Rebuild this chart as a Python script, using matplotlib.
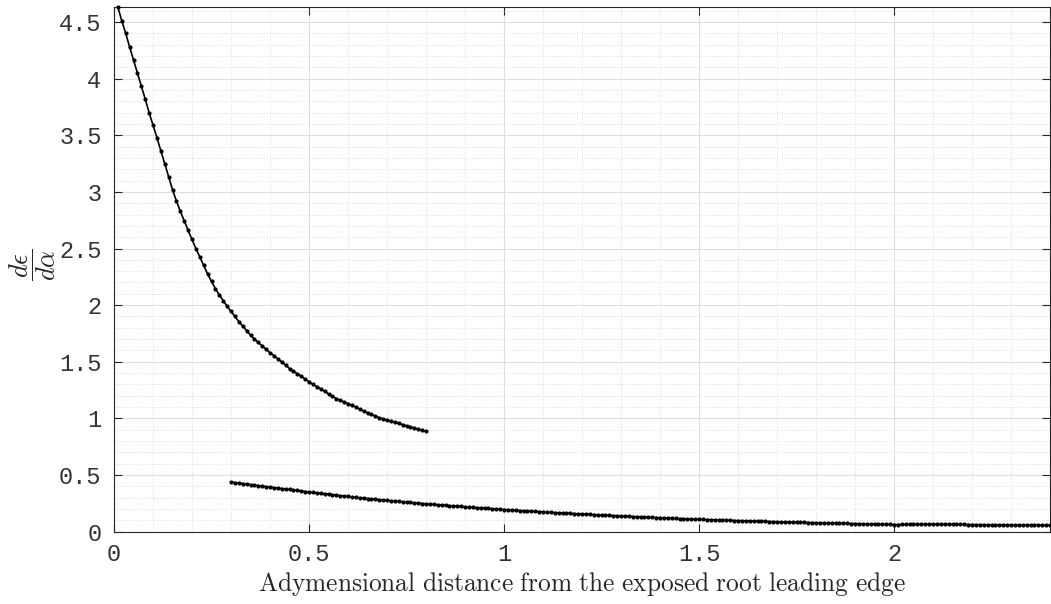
import numpy as np
import matplotlib
matplotlib.use("Agg")
import matplotlib.pyplot as plt
from matplotlib.ticker import MultipleLocator

# upper curve, sampled every 0.01 from x = 0.01 to 0.80
upper_y = [
    4.630, 4.510, 4.400, 4.280, 4.165, 4.050, 3.935, 3.820, 3.700, 3.590,
    3.480, 3.365, 3.250, 3.135, 3.020, 2.920, 2.830, 2.745, 2.660, 2.580,
    2.500, 2.425, 2.350, 2.275, 2.210, 2.145, 2.090, 2.040, 1.990, 1.945,
    1.900, 1.855, 1.815, 1.775, 1.735, 1.700, 1.670, 1.640, 1.610, 1.580,
    1.555, 1.525, 1.500, 1.470, 1.440, 1.415, 1.395, 1.375, 1.345, 1.325,
    1.300, 1.280, 1.260, 1.240, 1.215, 1.195, 1.175, 1.160, 1.145, 1.130,
    1.115, 1.100, 1.080, 1.065, 1.050, 1.035, 1.020, 1.005, 0.995, 0.985,
    0.975, 0.965, 0.955, 0.945, 0.935, 0.925, 0.915, 0.905, 0.895, 0.885,
]
upper_x = np.round(0.01 + 0.01 * np.arange(len(upper_y)), 2)

# lower curve, sampled every 0.01 from x = 0.30 to 2.40
lower_y = [
    0.437, 0.433, 0.428, 0.424, 0.419, 0.415, 0.411, 0.406, 0.402, 0.397,
    0.393, 0.389, 0.385, 0.380, 0.376, 0.372, 0.367, 0.363, 0.359, 0.354,
    0.350, 0.346, 0.342, 0.338, 0.334, 0.330, 0.326, 0.322, 0.318, 0.314,
    0.310, 0.306, 0.303, 0.299, 0.296, 0.292, 0.289, 0.285, 0.282, 0.278,
    0.275, 0.272, 0.269, 0.266, 0.263, 0.260, 0.257, 0.254, 0.251, 0.248,
    0.245, 0.242, 0.240, 0.237, 0.235, 0.232, 0.229, 0.227, 0.224, 0.222,
    0.219, 0.216, 0.214, 0.211, 0.209, 0.206, 0.204, 0.202, 0.199, 0.197,
    0.195, 0.193, 0.191, 0.188, 0.186, 0.184, 0.182, 0.180, 0.178, 0.176,
    0.174, 0.172, 0.170, 0.168, 0.166, 0.164, 0.163, 0.161, 0.159, 0.157,
    0.155, 0.153, 0.152, 0.150, 0.148, 0.147, 0.145, 0.143, 0.142, 0.140,
    0.138, 0.136, 0.135, 0.133, 0.132, 0.130, 0.128, 0.127, 0.125, 0.124,
    0.122, 0.121, 0.119, 0.118, 0.116, 0.115, 0.114, 0.112, 0.111, 0.109,
    0.108, 0.107, 0.106, 0.105, 0.103, 0.102, 0.101, 0.100, 0.099, 0.098,
    0.097, 0.096, 0.095, 0.094, 0.093, 0.092, 0.091, 0.090, 0.089, 0.088,
    0.087, 0.086, 0.085, 0.084, 0.083, 0.082, 0.082, 0.081, 0.080, 0.079,
    0.078, 0.077, 0.076, 0.076, 0.075, 0.074, 0.073, 0.072, 0.072, 0.071,
    0.070, 0.069, 0.068, 0.068, 0.067, 0.066, 0.065, 0.064, 0.064, 0.063,
    0.062, 0.062, 0.063, 0.063, 0.064, 0.064, 0.065, 0.065, 0.066, 0.066,
    0.066, 0.066, 0.065, 0.065, 0.065, 0.064, 0.064, 0.063, 0.063, 0.062,
    0.062, 0.061, 0.061, 0.061, 0.060, 0.060, 0.060, 0.059, 0.059, 0.059,
    0.058, 0.058, 0.058, 0.058, 0.057, 0.057, 0.057, 0.057, 0.056, 0.056,
    0.056,
]
lower_x = np.round(0.30 + 0.01 * np.arange(len(lower_y)), 2)

x_ticks = [0, 0.5, 1, 1.5, 2]
x_labels = ["0", "0.5", "1", "1.5", "2"]
y_ticks = [0, 0.5, 1, 1.5, 2, 2.5, 3, 3.5, 4, 4.5]
y_labels = ["0", "0.5", "1", "1.5", "2", "2.5", "3", "3.5", "4", "4.5"]

plt.rcParams["mathtext.fontset"] = "cm"
axc = "#262626"

fig = plt.figure(figsize=(10.51, 6.04), dpi=100)
ax = fig.add_axes([114 / 1051, 72.4 / 604, 936 / 1051, 524.3 / 604])

for xs, ys in [(upper_x, upper_y), (lower_x, lower_y)]:
    ax.plot(xs, ys, color="black", lw=1.2, marker=".", ms=4, clip_on=False, zorder=3)

ax.set_xlim(0, 2.4)
ax.set_ylim(0, 4.63)
ax.set_xticks(x_ticks)
ax.set_xticklabels(x_labels)
ax.set_yticks(y_ticks)
ax.set_yticklabels(y_labels)
ax.xaxis.set_minor_locator(MultipleLocator(0.1))
ax.yaxis.set_minor_locator(MultipleLocator(0.1))

ax.grid(True, which="major", color="#dedede", lw=0.8, ls="-")
ax.grid(True, which="minor", color="#d4d4d4", lw=0.6, ls=(0, (1, 2)))
ax.set_axisbelow(True)

ax.tick_params(which="major", direction="in", length=6, width=0.8, color=axc,
               top=True, right=True, labelsize=17, labelcolor="#333333")
ax.tick_params(axis="y", pad=9)
ax.tick_params(axis="x", pad=8)
ax.tick_params(which="minor", length=0)
for lab in ax.get_xticklabels() + ax.get_yticklabels():
    lab.set_family("Liberation Mono")
for sp in ax.spines.values():
    sp.set_color(axc)
    sp.set_linewidth(0.8)

ax.set_xlabel(r"$\mathrm{Adymensional\ distance\ from\ the\ exposed\ root\ leading\ edge}$",
              fontsize=18.3, color=axc, labelpad=3)
ax.set_ylabel(r"$\dfrac{d\epsilon}{d\alpha}$", fontsize=19, color=axc)
ax.yaxis.set_label_coords(58 / 1051, 1 - 265 / 604, transform=fig.transFigure)

fig.savefig("out.png", dpi=100)
